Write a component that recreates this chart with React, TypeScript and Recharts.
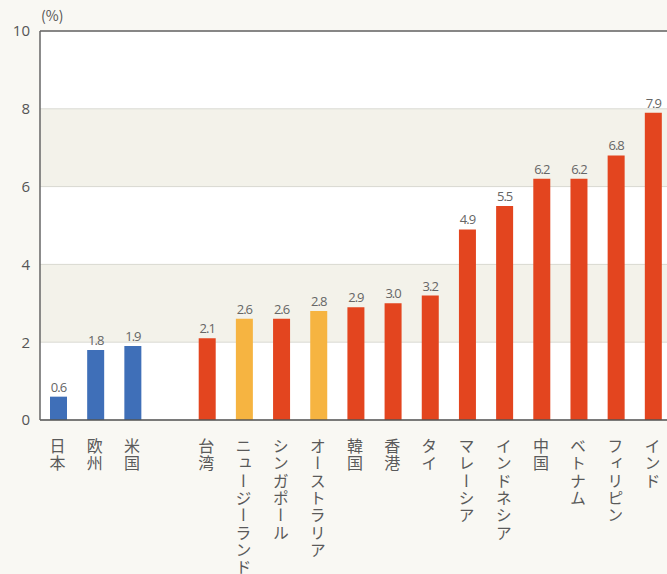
import React from "react";
import { Bar, BarChart, CartesianGrid, Cell, LabelList, ReferenceLine, XAxis, YAxis } from "recharts";

const categories = [
  "日本", "欧州", "米国", "",
  "台湾", "ニュージーランド", "シンガポール", "オーストラリア", "韓国", "香港", "タイ",
  "マレーシア", "インドネシア", "中国", "ベトナム", "フィリピン", "インド",
];
const values = [0.6, 1.8, 1.9, null, 2.1, 2.6, 2.6, 2.8, 2.9, 3.0, 3.2, 4.9, 5.5, 6.2, 6.2, 6.8, 7.9];
const groups = [
  "advanced", "advanced", "advanced", "none",
  "asia", "oceania", "asia", "oceania", "asia", "asia", "asia",
  "asia", "asia", "asia", "asia", "asia", "asia",
];
const yTicks = [0, 2, 4, 6, 8, 10];

const groupColors: Record<string, string> = {
  advanced: "#3f6fb8",
  asia: "#e3451f",
  oceania: "#f6b441",
  none: "transparent",
};

const data = categories.map((name, i) => ({ name, value: values[i], group: groups[i] }));

function VerticalTick(props: any) {
  const { x, y, payload } = props;
  if (!payload.value) return null;
  return (
    <text
      x={x - 1}
      y={y + 10}
      fill="#5a5a5a"
      fontSize={16}
      fontFamily="'Noto Sans CJK JP', sans-serif"
      letterSpacing={1.3}
      style={{ writingMode: "vertical-rl" as any }}
    >
      {payload.value}
    </text>
  );
}

export default function App() {
  return (
    <div
      style={{
        position: "fixed",
        left: 0,
        top: 0,
        width: 667,
        height: 574,
        overflow: "hidden",
        background: "#f9f8f3",
      }}
    >
      <div
        style={{
          position: "absolute",
          left: 41,
          top: 5,
          fontSize: 14,
          color: "#555",
          fontFamily: "'Noto Sans CJK JP', sans-serif",
        }}
      >
        (%)
      </div>
      <div style={{ position: "absolute", left: 8, top: 8 }}>
        <BarChart
          width={664}
          height={566}
          data={data}
          margin={{ top: 23, right: 0, bottom: 0, left: 0 }}
          barSize={17}
        >
          <CartesianGrid
            vertical={false}
            stroke="#d9d9d2"
            horizontalFill={["#ffffff", "#f3f2ea"]}
            fillOpacity={1}
          />
          <XAxis
            dataKey="name"
            interval={0}
            height={154}
            tick={<VerticalTick />}
            tickLine={false}
            axisLine={{ stroke: "#555", strokeWidth: 1.5 }}
          />
          <YAxis
            domain={[0, 10]}
            ticks={yTicks}
            width={32}
            tickLine={false}
            tickSize={8}
            tickMargin={2}
            axisLine={{ stroke: "#666", strokeWidth: 1.5 }}
            tick={{ fill: "#555", fontSize: 15, fontFamily: "'Open Sans', sans-serif" }}
          />
          <ReferenceLine y={10} stroke="#666" strokeWidth={1.5} />
          <Bar dataKey="value" isAnimationActive={false}>
            {data.map((d, i) => (
              <Cell key={i} fill={groupColors[d.group]} />
            ))}
            <LabelList
              dataKey="value"
              position="top"
              offset={5}
              fill="#666"
              fontSize={13}
              fontFamily="'Open Sans', sans-serif"
              letterSpacing={-1}
              formatter={(v: any) => (v == null ? "" : Number(v).toFixed(1))}
            />
          </Bar>
        </BarChart>
      </div>
    </div>
  );
}
